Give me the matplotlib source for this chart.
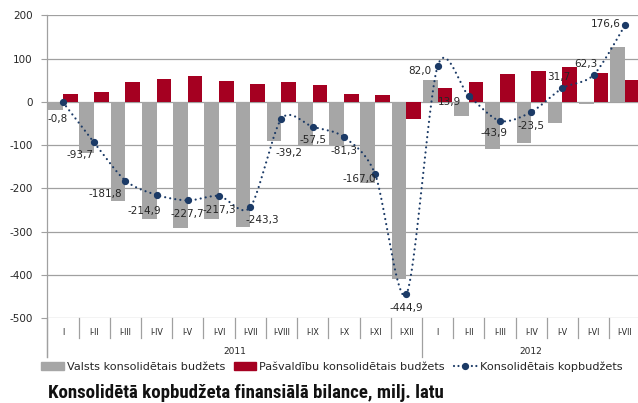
import numpy as np
import matplotlib
matplotlib.use("Agg")
import matplotlib.pyplot as plt
from matplotlib.lines import Line2D
from matplotlib.patches import Patch

# ---------------- data ----------------
categories = ["I", "I-II", "I-III", "I-IV", "I-V", "I-VI", "I-VII", "I-VIII", "I-IX",
              "I-X", "I-XI", "I-XII",
              "I", "I-II", "I-III", "I-IV", "I-V", "I-VI", "I-VII"]
years = ["2011", "2012"]
year_counts = [12, 7]
valsts = [-19, -118, -229, -271, -291, -271, -290, -90, -100, -101, -187, -409,
          50, -32, -109, -95, -48, -6, 126]
pasvaldibu = [18, 22, 45, 52, 59, 49, 41, 47, 38, 19, 15, -40,
              32, 46, 64, 71, 80, 67, 50]
kopbudzets = [-0.8, -93.7, -181.8, -214.9, -227.7, -217.3, -243.3, -39.2, -57.5, -81.3,
              -167.0, -444.9, 82.0, 13.9, -43.9, -23.5, 31.7, 62.3, 176.6]
series_names = ["Valsts konsolidētais budžets", "Pašvaldību konsolidētais budžets",
                "Konsolidētais kopbudžets"]
title = "Konsolidētā kopbudžeta finansiālā bilance, milj. latu"
yticks = [-500, -400, -300, -200, -100, 0, 100, 200]

# label offsets in pixels (dx, dy upward) – layout only
label_offsets = [(-5, -17), (-14, -13), (-20, -13), (-12, -16), (0, -14), (0, -14),
                 (12, -13), (8, -34), (0, -13), (0, -14), (-16, -5), (0, -14),
                 (-18, -5), (-19, -6), (-6, -12), (0, -14), (-4, 11), (-8, 11), (-19, 1)]

GRAY = "#A6A6A6"
RED = "#A50021"
NAVY = "#1B3A66"
GRID = "#A0A0A0"
TXT = "#262626"

W, H = 638, 403
fig = plt.figure(figsize=(W / 100, H / 100), dpi=100)
ax_left = 47.3 / W
ax_w = 19 * 31.22 / W
ax_bottom = 1 - 318.3 / H
ax_top = 1 - 15.3 / H
ax = fig.add_axes([ax_left, ax_bottom, ax_w, ax_top - ax_bottom])

x = np.arange(len(categories))
bw = 0.47
ax.bar(x - 0.235, valsts, width=bw, color=GRAY, zorder=2)
ax.bar(x + 0.235, pasvaldibu, width=bw, color=RED, zorder=2)


def smooth(xs, ys, n=40, k=6.0):
    pts = np.column_stack([xs, ys]).astype(float)
    out = []
    for i in range(len(pts) - 1):
        p0 = pts[i - 1] if i > 0 else pts[i]
        p1 = pts[i]
        p2 = pts[i + 1]
        p3 = pts[i + 2] if i + 2 < len(pts) else pts[i + 1]
        c1 = p1 + (p2 - p0) / k
        c2 = p2 - (p3 - p1) / k
        t = np.linspace(0, 1, n)[:, None]
        seg = (1 - t) ** 3 * p1 + 3 * (1 - t) ** 2 * t * c1 + 3 * (1 - t) * t ** 2 * c2 + t ** 3 * p2
        out.append(seg if i == 0 else seg[1:])
    return np.vstack(out)


curve = smooth(x, kopbudzets, k=7.0)
ax.plot(curve[:, 0], curve[:, 1], color=NAVY, lw=1.6, linestyle=(0, (0.01, 2.3)),
        dash_capstyle="round", zorder=3)
ax.plot(x, kopbudzets, linestyle="none", marker="o", markersize=4.2, color=NAVY, zorder=4)

for xi, v, (dx, dy) in zip(x, kopbudzets, label_offsets):
    s = f"{v:.1f}".replace(".", ",")
    ax.annotate(s, (xi, v), xytext=(dx, dy), textcoords="offset pixels",
                ha="center", va="center", fontsize=7.5, color=TXT, zorder=5)

ax.set_xlim(-0.5, len(categories) - 0.5)
ax.set_ylim(-500, 200)
ax.set_yticks(yticks)
ax.set_yticklabels([str(t) for t in yticks], fontsize=7.5, color=TXT)
ax.tick_params(axis="y", length=4, width=0.8, color=GRID, pad=6.5)
ax.set_xticks([])
ax.yaxis.grid(True, color=GRID, lw=0.9)
ax.set_axisbelow(True)
for s in ax.spines.values():
    s.set_visible(False)

tr = ax.get_xaxis_transform()
short = 20 / 303
long_ = 39 / 303
ax.plot([-0.5, -0.5], [1, -long_], transform=tr, color=GRID, lw=0.9, clip_on=False)
start = 0
bounds_long = [-0.5]
for c in year_counts:
    start += c
    bounds_long.append(start - 0.5)
for b in np.arange(-0.5, len(categories), 1.0):
    L = long_ if b in bounds_long else short
    ax.plot([b, b], [0, -L], transform=tr, color=GRID, lw=0.9, clip_on=False)
for xi, c in zip(x, categories):
    ax.text(xi, -0.047, c, transform=tr, ha="center", va="center", fontsize=5.8, color=TXT)
start = 0
for yname, c in zip(years, year_counts):
    ax.text(start - 0.5 + c / 2, -0.11, yname, transform=tr, ha="center", va="center",
            fontsize=6.5, color=TXT)
    start += c

handles = [Patch(color=GRAY), Patch(color=RED),
           Line2D([], [], color=NAVY, lw=1.6, linestyle=(0, (0.01, 2.0)), dash_capstyle="round",
                  marker="o", markersize=4.2)]
fig.legend(handles, series_names, loc="center left", bbox_to_anchor=(41 / W, 1 - 366.7 / H),
           ncol=3, frameon=False, fontsize=8.1, handlelength=2.0, handleheight=0.6,
           handletextpad=0.27, columnspacing=0.8, borderpad=0, borderaxespad=0,
           labelcolor=TXT)

title_fams = ["Liberation Sans Narrow", "DejaVu Sans Condensed", "Roboto Condensed",
              "Open Sans Condensed", "Liberation Sans"]
ttl = fig.text(48 / W, 1 - 393 / H, title, ha="left", va="center", fontsize=13,
               fontweight="bold", fontstretch="condensed", family=title_fams, color="#111111")
fig.canvas.draw()
wpx = ttl.get_window_extent(fig.canvas.get_renderer()).width
ttl.set_fontsize(13 * 394.0 / wpx)

fig.savefig("out.png", dpi=100)
